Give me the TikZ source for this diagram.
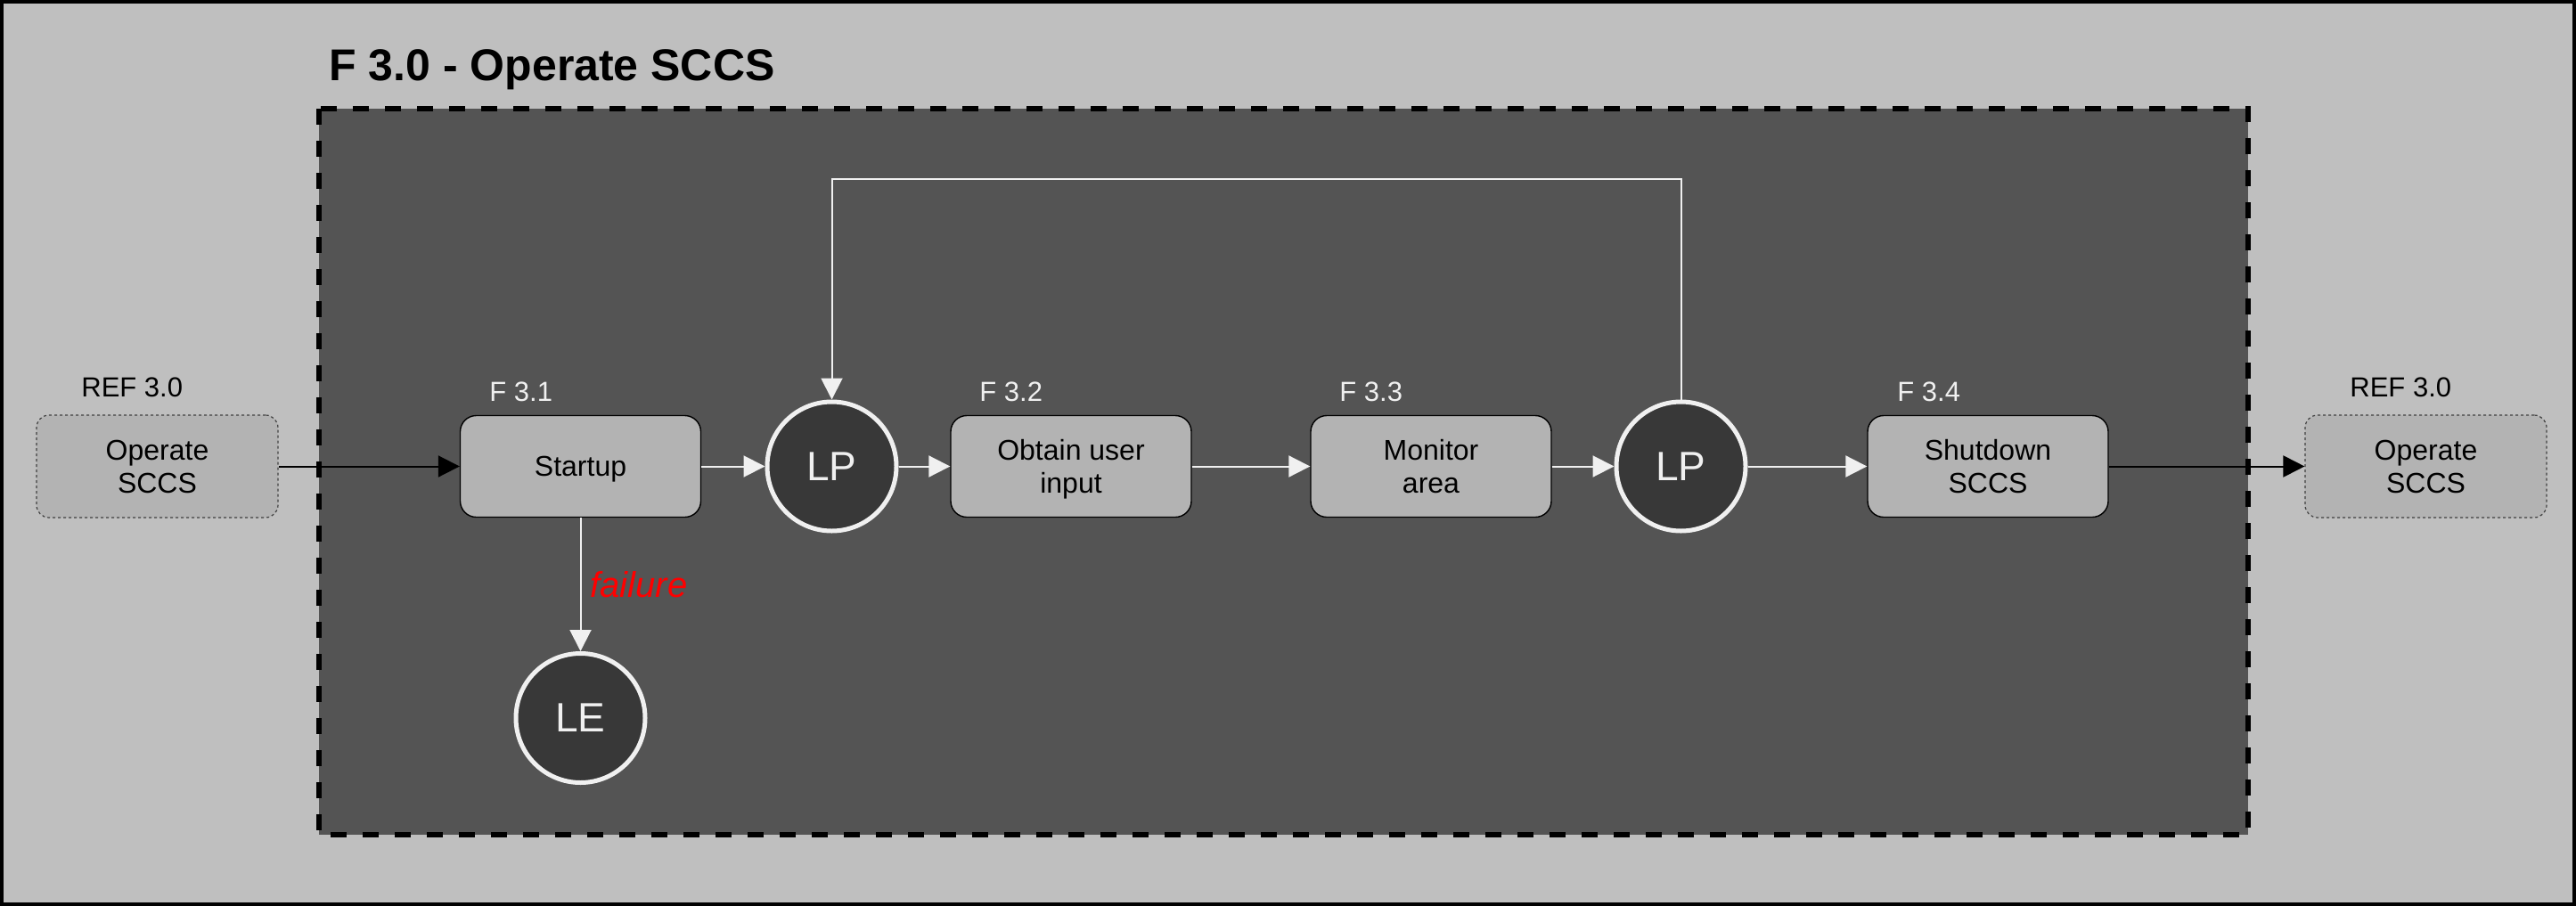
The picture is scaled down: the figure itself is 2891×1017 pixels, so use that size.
\documentclass[tikz,border=0pt]{standalone}
\usepackage{fontspec}
\setmainfont{Liberation Sans}
\usetikzlibrary{arrows.meta}
\definecolor{bgc}{HTML}{BFBFBF}
\definecolor{innerc}{HTML}{545454}
\definecolor{boxc}{HTML}{B3B3B3}
\definecolor{circc}{HTML}{383838}
\definecolor{whtc}{HTML}{F0F0F0}
\definecolor{refline}{HTML}{404040}
\tikzset{
  fbox/.style={draw=black, line width=0.7pt, fill=boxc, rounded corners=9pt,
    minimum width=135pt, minimum height=57pt, inner sep=0pt, align=center,
    text depth=0pt, font=\fontsize{16}{18.5}\selectfont},
  refbox/.style={draw=refline, dash pattern=on 1.5pt off 1.5pt, line width=0.6pt, fill=boxc,
    rounded corners=7pt, minimum width=135.5pt, minimum height=57.5pt, inner sep=0pt,
    align=center, text depth=0pt, font=\fontsize{16}{18.5}\selectfont},
  lpnode/.style={circle, draw=whtc, line width=2.5pt, fill=circc, minimum size=72.5pt,
    inner sep=0pt, text=whtc, font=\fontsize{23}{23}\selectfont},
  flabel/.style={anchor=base west, inner sep=0pt, text=whtc, font=\fontsize{15.5}{15.5}\selectfont},
  reflabel/.style={anchor=base west, inner sep=0pt, text=black, font=\fontsize{15.5}{15.5}\selectfont},
  wa/.style={draw=whtc, line width=1pt, -{Triangle[length=12pt,width=12pt]}},
  ba/.style={draw=black, line width=1pt, -{Triangle[length=12pt,width=12pt]}},
}
\begin{document}
\begin{tikzpicture}[x=0.5pt,y=-0.5pt]
\useasboundingbox (0,0) rectangle (2891,1017);
\fill[bgc] (0,0) rectangle (2891,1017);
\draw[black, line width=2pt] (2,2) rectangle (2889,1015);
% inner dashed area
\draw[fill=innerc, draw=black, line width=3pt, dash pattern=on 9pt off 9pt] (358,122) rectangle (2523,937);
\node[anchor=base west, inner sep=0pt, font=\fontsize{25}{25}\selectfont\bfseries] (title) at (369,90) {F 3.0 - Operate SCCS};

% nodes
\node[refbox] (refL) at (176.5,523.5) {Operate\\SCCS};
\node[reflabel] (refLl) at (91,445) {REF 3.0};
\node[fbox] (startup) at (651.5,523.5) {Startup};
\node[flabel] (l31) at (549,450) {F 3.1};
\node[lpnode] (lp1) at (933.5,523.5) {LP};
\node[fbox] (obtain) at (1202,523.5) {Obtain user\\input};
\node[flabel] (l32) at (1099,450) {F 3.2};
\node[fbox] (monitor) at (1606,523.5) {Monitor\\area};
\node[flabel] (l33) at (1503,450) {F 3.3};
\node[lpnode] (lp2) at (1886.5,523.5) {LP};
\node[fbox] (shutdown) at (2231,523.5) {Shutdown\\SCCS};
\node[flabel] (l34) at (2129,450) {F 3.4};
\node[refbox] (refR) at (2722.5,523.5) {Operate\\SCCS};
\node[reflabel] (refRl) at (2637,445) {REF 3.0};
\node[lpnode] (le) at (651.5,806) {LE};
\node[anchor=base west, inner sep=0pt, text=red, font=\fontsize{20}{20}\selectfont\itshape] (fail) at (662,670) {failure};

% connectors
\draw[ba] (refL.east) -- (startup.west);
\draw[wa] (startup.east) -- (lp1.west);
\draw[wa] (lp1.east) -- (obtain.west);
\draw[wa] (obtain.east) -- (monitor.west);
\draw[wa] (monitor.east) -- (lp2.west);
\draw[wa] (lp2.east) -- (shutdown.west);
\draw[ba] (shutdown.east) -- (refR.west);
\draw[wa] (startup.south) -- (le.north);
\coordinate (loopR) at (1886.5,201);
\coordinate (loopL) at (933.5,201);
\draw[wa] (lp2.north) -- (loopR) -- (loopL) -- (lp1.north);
\end{tikzpicture}
\end{document}
